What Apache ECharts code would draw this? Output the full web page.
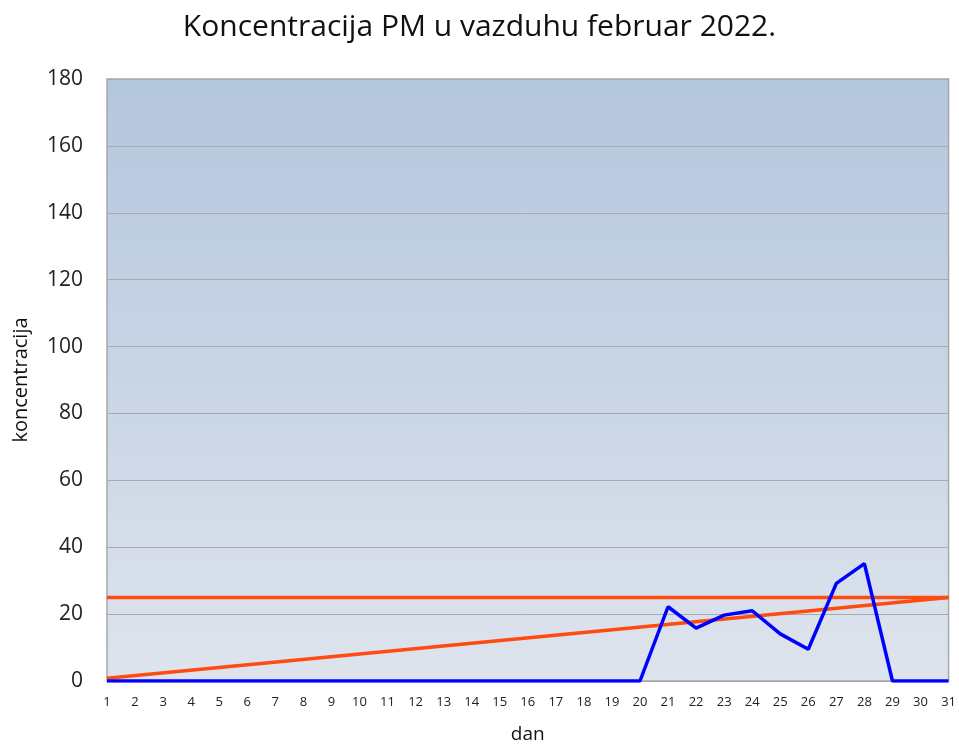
<!DOCTYPE html>
<html><head><meta charset="utf-8">
<script src="https://cdn.jsdelivr.net/npm/echarts@6/dist/echarts.min.js"></script>
<style>html,body{margin:0;padding:0;background:#fff}#c{width:959px;height:749px}</style>
</head><body><div id="c"></div>
<script>
const days = ['1','2','3','4','5','6','7','8','9','10','11','12','13','14','15','16','17','18','19','20','21','22','23','24','25','26','27','28','29','30','31'];
const pm = [0,0,0,0,0,0,0,0,0,0,0,0,0,0,0,0,0,0,0,0,22.2,15.8,19.7,21.0,14.1,9.5,29.2,35.1,0,0,0];
const limitLevel = 25;
const trendStart = 0.8;
const trendEnd = 25;
const yTicks = [0,20,40,60,80,100,120,140,160,180];

const chart = echarts.init(document.getElementById('c'));
chart.setOption({
  animation:false,
  title:{text:'Koncentracija PM u vazduhu februar 2022.',left:'center',top:7,
    textStyle:{fontFamily:'Open Sans',fontSize:30,fontWeight:'normal',color:'#111'}},
  grid:{left:107,right:8,top:79,bottom:63,show:true,borderColor:'#a8a8a8',borderWidth:1.5,
    backgroundColor:new echarts.graphic.LinearGradient(0,0,0,1,[{offset:0,color:'#b4c6dd'},{offset:1,color:'#dee4ed'}])},
  xAxis:{type:'category',data:days,boundaryGap:false,name:'dan',nameLocation:'middle',nameGap:44,
    nameTextStyle:{fontFamily:'Open Sans',fontSize:19,color:'#111'},
    axisLine:{show:false},axisTick:{show:false},
    axisLabel:{fontFamily:'Open Sans',fontSize:13,color:'#222',margin:15,interval:0}},
  yAxis:{type:'value',min:yTicks[0],max:yTicks[yTicks.length-1],interval:20,
    name:'koncentracija',nameLocation:'middle',nameGap:76,nameRotate:90,
    nameTextStyle:{fontFamily:'Open Sans',fontSize:20,color:'#111'},
    axisLine:{show:false},axisTick:{show:false},
    axisLabel:{fontFamily:'Open Sans',fontSize:21,color:'#222',margin:24},
    splitLine:{lineStyle:{color:'#aaaaaa',width:1}}},
  series:[
    {type:'line',data:pm,symbol:'none',lineStyle:{color:'#0000ff',width:3.5},z:3},
    {type:'line',data:days.map(()=>limitLevel),symbol:'none',lineStyle:{color:'#ff4a10',width:3.5},z:2},
    {type:'line',data:[[days[0],trendStart],[days[days.length-1],trendEnd]],symbol:'none',lineStyle:{color:'#ff4a10',width:3.5},z:2}
  ]
});
</script></body></html>
